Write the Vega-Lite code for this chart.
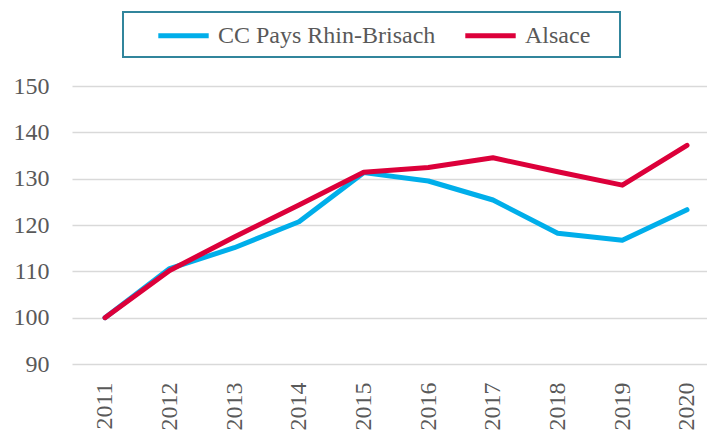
{
  "$schema": "https://vega.github.io/schema/vega-lite/v6.json",
  "width": 635,
  "height": 278,
  "autosize": {"type": "none"},
  "padding": {"left": 72, "top": 86, "right": 0, "bottom": 66},
  "background": "white",
  "config": {
    "view": {"stroke": null},
    "font": "Liberation Serif",
    "legend": {"strokeWidth": 2}
  },
  "data": {
    "values": [
      {"year": 2011, "series": "CC Pays Rhin-Brisach", "value": 100},
      {"year": 2012, "series": "CC Pays Rhin-Brisach", "value": 110.6},
      {"year": 2013, "series": "CC Pays Rhin-Brisach", "value": 115.1},
      {"year": 2014, "series": "CC Pays Rhin-Brisach", "value": 120.7},
      {"year": 2015, "series": "CC Pays Rhin-Brisach", "value": 131.3},
      {"year": 2016, "series": "CC Pays Rhin-Brisach", "value": 129.5},
      {"year": 2017, "series": "CC Pays Rhin-Brisach", "value": 125.4},
      {"year": 2018, "series": "CC Pays Rhin-Brisach", "value": 118.2},
      {"year": 2019, "series": "CC Pays Rhin-Brisach", "value": 116.7},
      {"year": 2020, "series": "CC Pays Rhin-Brisach", "value": 123.3},
      {"year": 2011, "series": "Alsace", "value": 100},
      {"year": 2012, "series": "Alsace", "value": 110.2},
      {"year": 2013, "series": "Alsace", "value": 117.4},
      {"year": 2014, "series": "Alsace", "value": 124.3},
      {"year": 2015, "series": "Alsace", "value": 131.4},
      {"year": 2016, "series": "Alsace", "value": 132.4},
      {"year": 2017, "series": "Alsace", "value": 134.5},
      {"year": 2018, "series": "Alsace", "value": 131.5},
      {"year": 2019, "series": "Alsace", "value": 128.6},
      {"year": 2020, "series": "Alsace", "value": 137.2}
    ]
  },
  "mark": {"type": "line", "strokeWidth": 5, "strokeCap": "round", "strokeJoin": "round"},
  "encoding": {
    "x": {
      "field": "year",
      "type": "quantitative",
      "scale": {"domain": [2010.4897, 2020.3093], "nice": false, "zero": false},
      "axis": {
        "title": null,
        "values": [2011, 2012, 2013, 2014, 2015, 2016, 2017, 2018, 2019, 2020],
        "format": "d",
        "labelAngle": -90,
        "labelAlign": "right",
        "labelBaseline": "middle",
        "labelFlush": false,
        "labelOverlap": false,
        "labelFont": "Liberation Serif",
        "labelFontSize": 24,
        "labelColor": "#595959",
        "labelPadding": 18,
        "ticks": false,
        "domain": false,
        "grid": false
      }
    },
    "y": {
      "field": "value",
      "type": "quantitative",
      "scale": {"domain": [90, 150], "nice": false, "zero": false},
      "axis": {
        "title": null,
        "values": [90, 100, 110, 120, 130, 140, 150],
        "labelFont": "Liberation Serif",
        "labelFontSize": 24,
        "labelColor": "#595959",
        "labelPadding": 23,
        "ticks": false,
        "domain": false,
        "grid": true,
        "gridColor": "#D9D9D9",
        "gridWidth": 1.5
      }
    },
    "color": {
      "field": "series",
      "type": "nominal",
      "sort": ["CC Pays Rhin-Brisach", "Alsace"],
      "scale": {"domain": ["CC Pays Rhin-Brisach", "Alsace"], "range": ["#00AEEA", "#DC003A"]},
      "legend": {
        "title": null,
        "orient": "none",
        "direction": "horizontal",
        "legendX": 51,
        "legendY": -74,
        "strokeColor": "#31859C",
        "fillColor": "white",
        "padding": 9,
        "symbolType": "M-2.1,0H2.1M9.2,0",
        "symbolSize": 576,
        "symbolStrokeWidth": 5,
        "symbolOffset": 37,
        "labelFont": "Liberation Serif",
        "labelFontSize": 24,
        "labelColor": "#595959",
        "labelOffset": 20,
        "columnPadding": 3,
        "labelLimit": 400
      }
    }
  }
}
